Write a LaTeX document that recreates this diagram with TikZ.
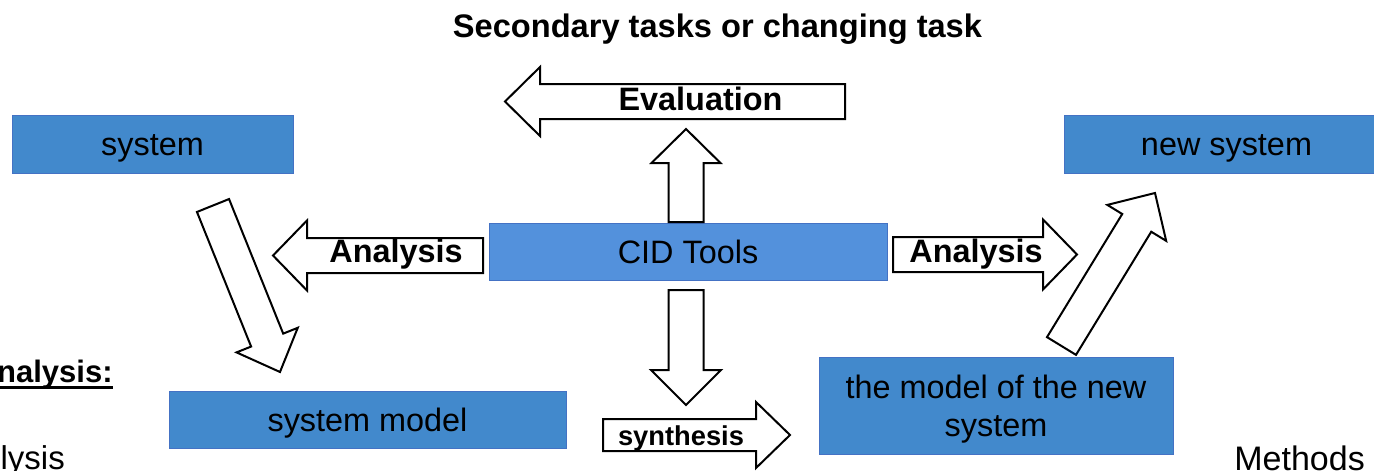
\documentclass[tikz,border=0pt]{standalone}
\usepackage{fontspec}
\setmainfont{Liberation Sans}
\usetikzlibrary{calc}
\definecolor{boxblue}{RGB}{66,137,204}
\definecolor{cidblue}{RGB}{83,145,220}
\definecolor{boxline}{RGB}{68,114,196}
\newcommand{\fsz}[2]{\fontsize{#1pt}{#2pt}\selectfont}
\newcommand{\barrow}[5]{%
  \draw[blockline] let \p1=(#1), \p2=(#2),
     \n1={atan2(\y2-\y1,\x2-\x1)},
     \n2={veclen(\x2-\x1,\y2-\y1)-#5}
   in ($(\p1)+(\n1+90:#3pt)$)
   -- ($(\p1)+(\n1:\n2)+(\n1+90:#3pt)$)
   -- ($(\p1)+(\n1:\n2)+(\n1+90:#4pt)$)
   -- (\p2)
   -- ($(\p1)+(\n1:\n2)+(\n1-90:#4pt)$)
   -- ($(\p1)+(\n1:\n2)+(\n1-90:#3pt)$)
   -- ($(\p1)+(\n1-90:#3pt)$) -- cycle;}
\tikzset{
  blockline/.style={draw=black, fill=white, line width=2pt, line join=miter},
  bbox/.style={draw=boxline, line width=1pt, fill=boxblue, inner sep=0pt,
    text height=23pt, text depth=0pt, font={\fsz{32.4}{38.9}}},
  alabel/.style={anchor=base, inner sep=0pt, font={\bfseries\fsz{32.4}{39}}},
  sidetext/.style={inner sep=0pt}
}
\begin{document}
\begin{tikzpicture}[x=1pt,y=-1pt]
\useasboundingbox (0,0) rectangle (1374,471);
\clip (0,0) rectangle (1374,471);
% boxes
\node[bbox, minimum width=281pt, minimum height=58pt] (sys) at (152.5,144) {system};
\node[bbox, minimum width=325pt, minimum height=58pt] (newsys) at (1226.5,144) {new system};
\node[bbox, fill=cidblue, minimum width=398pt, minimum height=57pt] (cid) at (688,251.5) {CID Tools};
\node[bbox, minimum width=397pt, minimum height=57pt] (sysmod) at (367.5,419.5) {system model};
\node[draw=boxline, line width=1pt, fill=boxblue, inner sep=0pt, align=center,
      font={\fsz{32.4}{38}}, minimum width=354pt, minimum height=97pt] (newmod) at (996,405.5)
      {\rule{0pt}{31pt}the model of the new\\system};
% arrow end points
\coordinate (evT) at (845,101.5);   \coordinate (evH) at (505,101.5);
\coordinate (upT) at (686,222);     \coordinate (upH) at (686,129);
\coordinate (alT) at (483,255.5);   \coordinate (alH) at (273,255.5);
\coordinate (arT) at (893,254.5);   \coordinate (arH) at (1077,254.5);
\coordinate (dnT) at (686,290);     \coordinate (dnH) at (686,405);
\coordinate (syT) at (603,435);     \coordinate (syH) at (790,435);
\coordinate (d1T) at (213,205.5);   \coordinate (d1H) at (280,372);
\coordinate (d2T) at (1061.5,346);  \coordinate (d2H) at (1155,193);
% block arrows
\barrow{evT}{evH}{17.5}{34.5}{35}
\barrow{upT}{upH}{17.5}{34.5}{34}
\barrow{alT}{alH}{17.5}{35}{34}
\barrow{arT}{arH}{17.5}{35}{34}
\barrow{dnT}{dnH}{17.5}{35}{35}
\barrow{syT}{syH}{16}{33}{34}
\barrow{d1T}{d1H}{17.3}{33}{34.4}
\barrow{d2T}{d2H}{17}{34.5}{35}
% arrow labels
\node[alabel] (evtext) at (700.5,110) {Evaluation};
\node[alabel] (altext) at (396,262) {Analysis};
\node[alabel] (artext) at (976,262) {Analysis};
\node[alabel, font={\bfseries\fsz{27.3}{33}}] (sytext) at (681,445) {synthesis};
% title and side texts
\node[anchor=base, inner sep=0pt, font={\bfseries\fsz{32.6}{39}}] (title) at (717.5,37) {Secondary tasks or changing task};
\node[sidetext, anchor=base west, font={\bfseries\fsz{31}{37}}] (nal) at (-3,382) {nalysis:};
\draw[line width=2.5pt] ([yshift=-5.5pt]nal.base west) -- ([yshift=-5.5pt]nal.base east);
\node[sidetext, anchor=base east, font={\fsz{33}{40}}] (lys) at (65,469.5) {lysis};
\node[sidetext, anchor=base east, font={\fsz{34}{40}}] (meth) at (1365,470) {Methods};
\end{tikzpicture}
\end{document}
